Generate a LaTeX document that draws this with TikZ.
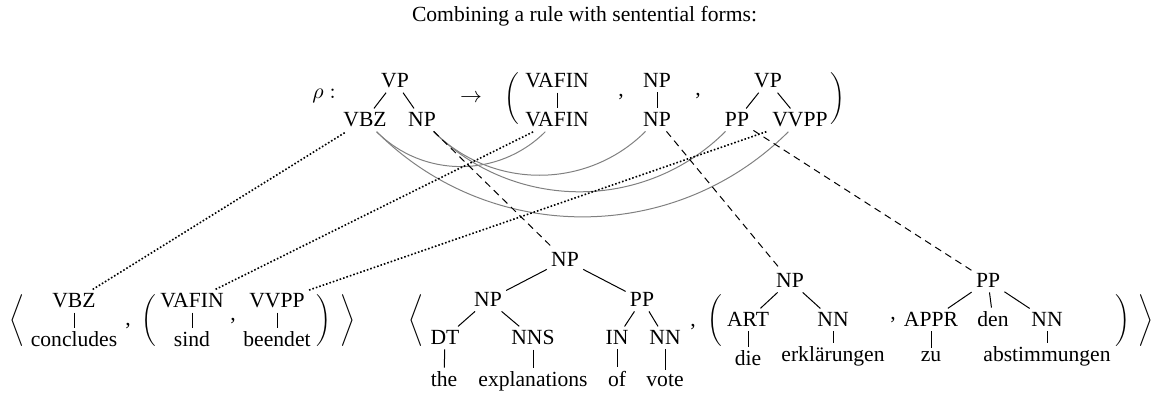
\documentclass[tikz,border=0pt]{standalone}
\usepackage{fontspec}
\setmainfont{Liberation Serif}
\usepackage{graphicx}
% tall delimiter used around tuples and sentential forms
\newcommand\Dlm[1]{\scalebox{1}[1.08]{$\bigg#1$}}
\begin{document}
\begin{tikzpicture}[x=0.5pt,y=-0.5pt,
  every node/.style={font=\fontsize{10.8}{13}\selectfont},
  lab/.style={inner sep=2pt, anchor=base},
  delim/.style={inner sep=0pt},
  sym/.style={inner sep=0pt},
  edge/.style={line width=0.5pt},
  rulelink/.style={gray, line width=0.5pt},
  alignlink/.style={line width=0.8pt, densely dotted},
  substlink/.style={line width=0.5pt, dash pattern=on 3.5pt off 2.5pt}
]
\useasboundingbox (0,0) rectangle (1155,394);

\node[lab] (title) at (584.5,22) {Combining a rule with sentential forms:};

% the rule rho
\node[lab] (rho) at (324,99) {$\rho:$};
\node[lab] (lhs) at (395,88) {VP};
\node[lab] (lvbz) at (365,127) {VBZ};
\node[lab] (lnp) at (422,127) {NP};
\node[sym] (arr) at (471,98) {$\to$};
\node[delim] (lpar) at (512,99) {\Dlm(};
\node[lab] (r1t) at (557,88) {VAFIN};
\node[lab] (r1b) at (557,127) {VAFIN};
\node[sym] (c1) at (621,97) {,};
\node[lab] (r2t) at (657,88) {NP};
\node[lab] (r2b) at (657,127) {NP};
\node[sym] (c2) at (698,96) {,};
\node[lab] (r3t) at (768,88) {VP};
\node[lab] (r3pp) at (737,127) {PP};
\node[lab] (r3vv) at (800,127) {VVPP};
\node[delim] (rpar) at (838,99) {\Dlm)};

\draw[edge] (lhs) -- (lvbz);
\draw[edge] (lhs) -- (lnp);
\draw[edge] (r1t) -- (r1b);
\draw[edge] (r2t) -- (r2b);
\draw[edge] (r3t) -- (r3pp);
\draw[edge] (r3t) -- (r3vv);

% links between left- and right-hand side of the rule
\draw[rulelink] (lvbz) to[out=-45,in=-135] (r1b);
\draw[rulelink] (lvbz) to[out=-45,in=-135] (r3vv);
\draw[rulelink] (lnp) to[out=-45,in=-135] (r2b);
\draw[rulelink] (lnp) to[out=-45,in=-135] (r3pp);

% first sentential form
\node[delim] (la1) at (17.5,321) {\Dlm\langle};
\node[lab] (b1) at (74,308) {VBZ};
\node[lab] (w1) at (74,347) {concludes};
\node[sym] (c3) at (128,326) {,};
\node[delim] (lp2) at (149,321) {\Dlm(};
\node[lab] (b2) at (192,308) {VAFIN};
\node[lab] (w2) at (192,347) {sind};
\node[sym] (c4) at (233,321) {,};
\node[lab] (b3) at (277,308) {VVPP};
\node[lab] (w3) at (277,347) {beendet};
\node[delim] (rp2) at (324,321) {\Dlm)};
\node[delim] (ra1) at (348,321) {\Dlm\rangle};

\draw[edge] (b1) -- (w1);
\draw[edge] (b2) -- (w2);
\draw[edge] (b3) -- (w3);

% second sentential form: English tree
\node[delim] (la2) at (416,321) {\Dlm\langle};
\node[lab] (e0) at (565,267) {NP};
\node[lab] (e1) at (488,307) {NP};
\node[lab] (e2) at (642,307) {PP};
\node[lab] (e11) at (445,345) {DT};
\node[lab] (e12) at (533,345) {NNS};
\node[lab] (e21) at (617,345) {IN};
\node[lab] (e22) at (665,345) {NN};
\node[lab] (ew1) at (444,387) {the};
\node[lab] (ew2) at (533,387) {explanations};
\node[lab] (ew3) at (617,387) {of};
\node[lab] (ew4) at (665,387) {vote};
\node[sym] (c5) at (693,327) {,};

\draw[edge] (e0) -- (e1);
\draw[edge] (e0) -- (e2);
\draw[edge] (e1) -- (e11);
\draw[edge] (e1) -- (e12);
\draw[edge] (e2) -- (e21);
\draw[edge] (e2) -- (e22);
\draw[edge] (e11) -- (ew1);
\draw[edge] (e12) -- (ew2);
\draw[edge] (e21) -- (ew3);
\draw[edge] (e22) -- (ew4);

% German trees
\node[delim] (lp3) at (715,321) {\Dlm(};
\node[lab] (g0) at (790,288) {NP};
\node[lab] (g1) at (748,327) {ART};
\node[lab] (g2) at (833,327) {NN};
\node[lab] (gw1) at (748,366) {die};
\node[lab] (gw2) at (833,362) {erklärungen};
\node[sym] (c6) at (893,320) {,};
\node[lab] (h0) at (988,288) {PP};
\node[lab] (h1) at (931,327) {APPR};
\node[lab] (h2) at (993,327) {den};
\node[lab] (h3) at (1047,327) {NN};
\node[lab] (hw1) at (931,362) {zu};
\node[lab] (hw3) at (1047,362) {abstimmungen};
\node[delim] (rp3) at (1123,321) {\Dlm)};
\node[delim] (ra2) at (1146,321) {\Dlm\rangle};

\draw[edge] (g0) -- (g1);
\draw[edge] (g0) -- (g2);
\draw[edge] (g1) -- (gw1);
\draw[edge] (g2) -- (gw2);
\draw[edge] (h0) -- (h1);
\draw[edge] (h0) -- (h2);
\draw[edge] (h0) -- (h3);
\draw[edge] (h1) -- (hw1);
\draw[edge] (h3) -- (hw3);

% alignment of the rule's leaves with the first form
\draw[alignlink] (b1) -- (lvbz);
\draw[alignlink] (b2) -- (r1b);
\draw[alignlink] (b3) -- (r3vv);

% substitution sites filled by the trees
\draw[substlink] (lnp) -- (e0);
\draw[substlink] (r2b) -- (g0);
\draw[substlink] (r3pp) -- (h0);
\end{tikzpicture}
\end{document}
